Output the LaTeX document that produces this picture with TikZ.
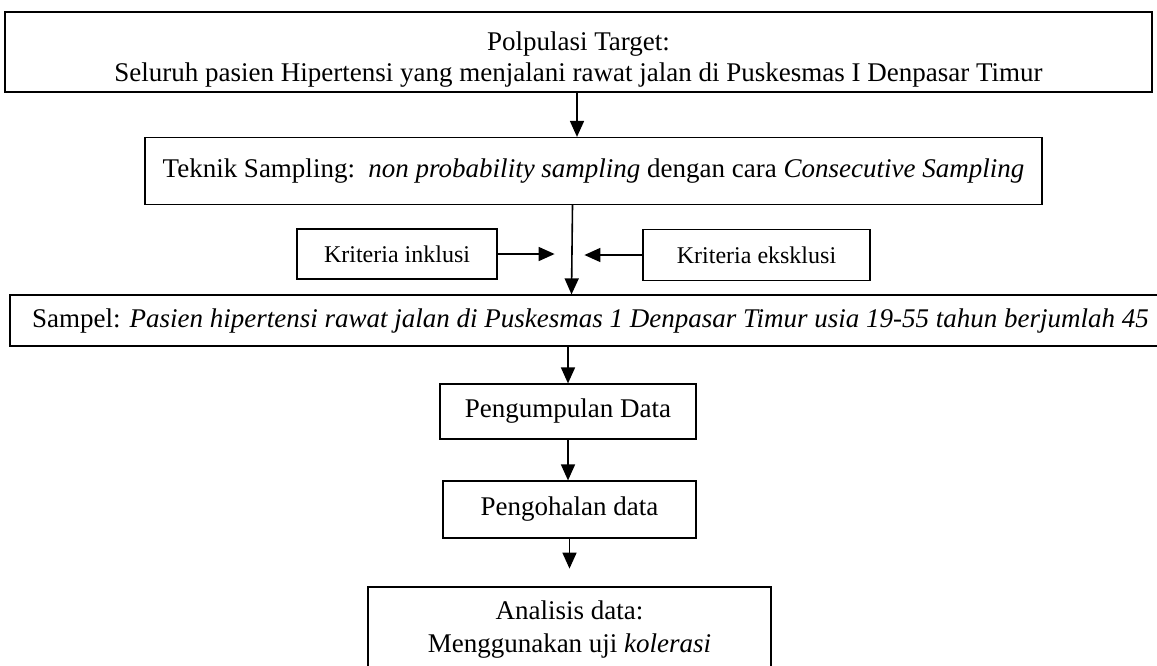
\documentclass[tikz,border=0pt]{standalone}
\usepackage{fontspec}
\setmainfont{Liberation Serif}
\usepackage{tikz}
\usetikzlibrary{arrows.meta, positioning}

\begin{document}
\begin{tikzpicture}[
		x=0.5pt, y=-0.5pt,
		box/.style={
			draw,
			line width=0.6pt,
			align=center,
			inner sep=0pt,
			font=\fontsize{13.5}{15.5}\selectfont
		},
		small/.style={
			font=\fontsize{12}{14}\selectfont
		},
		arrow/.style={
			-{Triangle[length=8pt,width=7pt]},
			line width=0.8pt
		}
		]
		
		\useasboundingbox (0,0) rectangle (1157,665);
		
		% Populasi dan teknik sampling
		\node[box, minimum width=573.5pt, minimum height=40pt] (target) at (578.5,52) {\rule{0pt}{16.5pt}Polpulasi Target:\\Seluruh pasien Hipertensi yang menjalani rawat jalan di Puskesmas I Denpasar Timur};
		\node[box, minimum width=448.5pt, minimum height=33.5pt] (teknik) at (593.5,171) {Teknik Sampling:\ \ \textit{non probability sampling} dengan cara \textit{Consecutive Sampling}};
		
		% Kriteria
		\node[box, small, minimum width=100pt, minimum height=25pt] (inklusi) at (397,254) {Kriteria inklusi};
		\node[box, small, minimum width=113.5pt, minimum height=25.5pt] (eksklusi) at (756.5,255) {Kriteria eksklusi};
		
		% Sampel dan tahap analisis
		\node[box, minimum width=580.5pt, minimum height=25.5pt] (sampel) at (590.5,320.5) {Sampel: \textit{Pasien hipertensi rawat jalan di Puskesmas 1 Denpasar Timur usia 19-55 tahun berjumlah 45}};
		\node[box, minimum width=128pt, minimum height=27.5pt] (kumpul) at (568,411.5) {Pengumpulan Data};
		\node[box, minimum width=126.5pt, minimum height=28.5pt] (olah) at (569.5,509.5) {Pengohalan data};
		\node[box, minimum width=201.5pt, minimum height=43pt] (analisis) at (569.5,630) {Analisis data:\\[1pt]Menggunakan uji \textit{kolerasi}};
		
		% Panah utama
		\draw[arrow] (target.south -| 577,0) -- (teknik.north -| 577,0);
		\draw[arrow] ([xshift=-10.5pt]teknik.south) -- ([xshift=-11pt]teknik.south |- sampel.north);
		\draw[arrow] (kumpul.north |- sampel.south) -- (kumpul.north);
		\draw[arrow] (kumpul.south) -- (kumpul.south |- olah.north);
		\draw[arrow] (olah.south) -- ++(0,30);
		
		% Panah kriteria
		\draw[arrow] (inklusi.east) -- ++(57,0);
		\draw[arrow] (eksklusi.west) -- ++(-58,0);
		
	\end{tikzpicture}
\end{document}
